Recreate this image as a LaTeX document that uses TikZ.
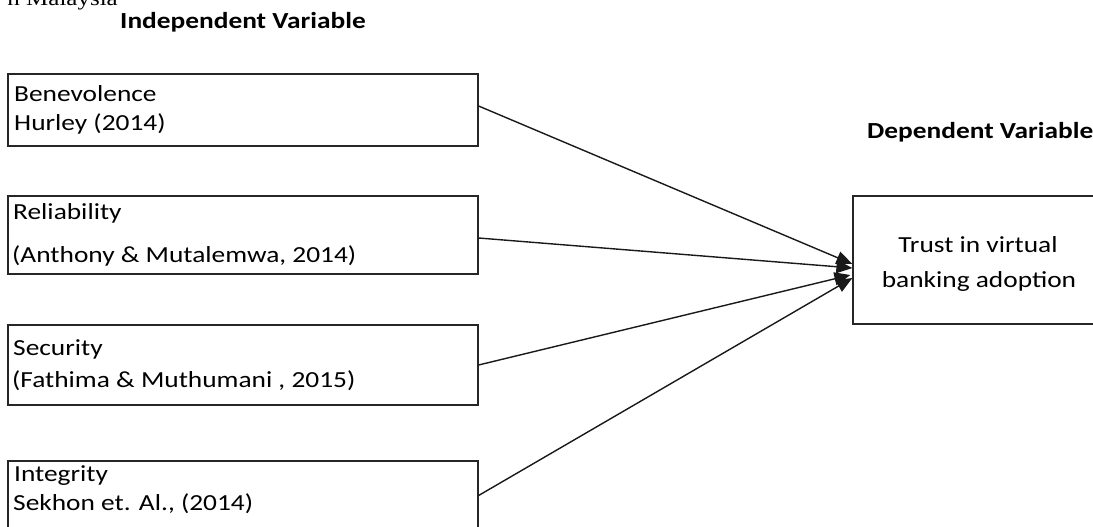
\documentclass[tikz,border=0pt]{standalone}
\usepackage{fontspec}
\setmainfont{Carlito}
\newfontfamily\tnrfont{Liberation Serif}
\usetikzlibrary{arrows.meta}
\newcommand{\hstr}[1]{\scalebox{1.19}[1]{#1}}
\begin{document}
\begin{tikzpicture}[x=1pt,y=-1pt,
  box/.style={draw=black!85, line width=1.2pt, rectangle, inner sep=0pt},
  txt/.style={inner sep=0pt, anchor=base west, font=\fontsize{23}{27}\selectfont},
  head/.style={inner sep=0pt, anchor=base west, font=\fontsize{23}{27}\selectfont\bfseries},
  ctxt/.style={inner sep=0pt, anchor=base, font=\fontsize{23}{27}\selectfont},
  arr/.style={draw=black!90, line width=1.4pt, -{Triangle[length=16pt,width=13pt]}}]
\useasboundingbox (0,0) rectangle (1093,527);
% top cut text
\node[inner sep=0pt, anchor=base east, font=\fontsize{21}{24}\selectfont\tnrfont] (cut) at (118,6) {\hstr{n Malaysia}};
% headings
\node[head] (hind) at (120,29) {\hstr{Independent Variable}};
\node[head] (hdep) at (867,138) {\hstr{Dependent Variable}};
% boxes
\node[box, minimum width=470pt, minimum height=72pt] (b1) at (243,110) {};
\node[box, minimum width=470pt, minimum height=78pt] (b2) at (243,235) {};
\node[box, minimum width=470pt, minimum height=80pt] (b3) at (243,365) {};
\node[box, minimum width=470pt, minimum height=69pt] (b4) at (243,495.5) {};
\node[box, minimum width=247pt, minimum height=128pt] (t) at (976.5,260) {};
% box texts
\node[txt] (b1a) at (14,101) {\hstr{Benevolence}};
\node[txt] (b1b) at (14,130) {\hstr{Hurley (2014)}};
\node[txt] (b2a) at (13,219) {\hstr{Reliability}};
\node[txt] (b2b) at (12,262) {\hstr{(Anthony \& Mutalemwa, 2014)}};
\node[txt] (b3a) at (13,355) {\hstr{Security}};
\node[txt] (b3b) at (12,387) {\hstr{(Fathima \& Muthumani , 2015)}};
\node[txt] (b4a) at (14,481) {\hstr{Integrity}};
\node[txt] (b4b) at (13,510) {\hstr{Sekhon et. Al., (2014)}};
\node[ctxt] (ta) at (978,252) {\hstr{Trust in virtual}};
\node[ctxt] (tb) at (979,287) {\hstr{banking adoption}};
% arrow ends
\coordinate (e1) at ([yshift=-4pt]t.west);
\coordinate (e2) at ([yshift=-8pt]t.west);
\coordinate (e3) at ([xshift=-2pt,yshift=-15pt]t.west);
\coordinate (e4) at ([yshift=-18pt]t.west);
\draw[arr] ([yshift=4pt]b1.east) -- (e1);
\draw[arr] ([yshift=-3pt]b2.east) -- (e2);
\draw[arr] (b3.east) -- (e3);
\draw[arr] (b4.east) -- (e4);
\end{tikzpicture}
\end{document}
